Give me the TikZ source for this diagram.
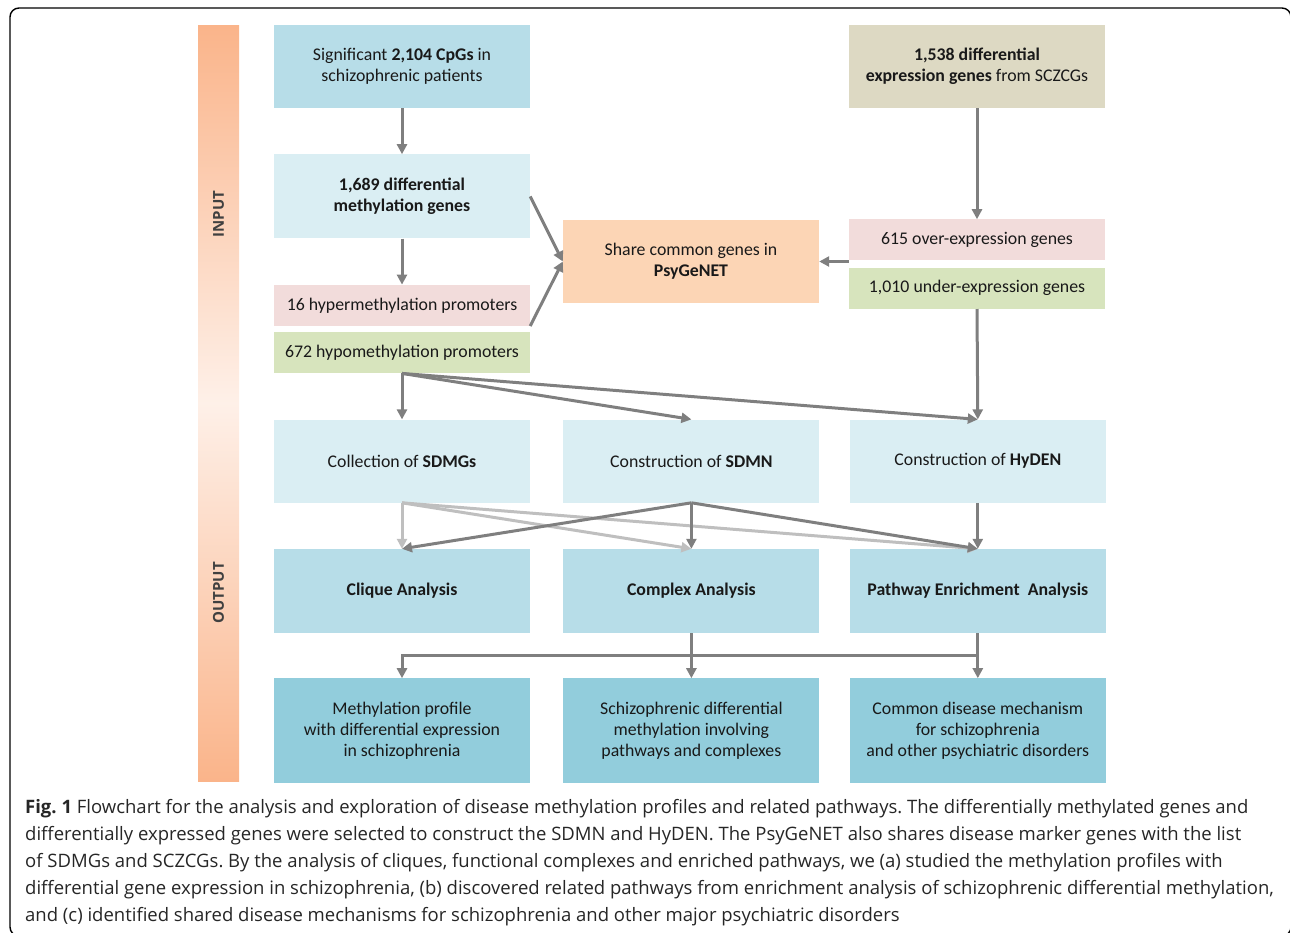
\documentclass[tikz,border=0pt]{standalone}
\usepackage{fontspec}
\setmainfont{Carlito}
\newfontfamily\capfont{Open Sans}
\usepackage{tikz}
\usepackage{xcolor}
\usetikzlibrary{arrows.meta, positioning}
\frenchspacing
\definecolor{aquadeep}{HTML}{B7DDE8}
\definecolor{aquapale}{HTML}{DAEEF3}
\definecolor{aquadark}{HTML}{92CDDC}
\definecolor{tanfill}{HTML}{DDD9C3}
\definecolor{peachfill}{HTML}{FCD5B5}
\definecolor{rosefill}{HTML}{F2DCDB}
\definecolor{olivefill}{HTML}{D7E4BD}
\definecolor{arrowgray}{HTML}{7F7F7F}
\definecolor{fadegray}{HTML}{BFBFBF}
\definecolor{barorange}{HTML}{FAB48A}
\definecolor{barlight}{HTML}{FEF0E8}
\tikzstyle{cell}      = [rectangle, minimum width=256pt, minimum height=83pt, inner sep=2pt,
                         text centered, align=center, text=black!90,
                         font=\fontsize{17.8}{21}\selectfont]
\tikzstyle{bluebox}   = [cell, fill=aquadeep]
\tikzstyle{palebox}   = [cell, fill=aquapale]
\tikzstyle{darkbox}   = [cell, fill=aquadark, minimum height=105pt]
\tikzstyle{tanbox}    = [cell, fill=tanfill]
\tikzstyle{peachbox}  = [cell, fill=peachfill]
\tikzstyle{rosebox}   = [cell, fill=rosefill, minimum height=41pt]
\tikzstyle{olivebox}  = [cell, fill=olivefill, minimum height=41pt]
\tikzstyle{sidelabel} = [rotate=90, text=black!75, font=\capfont\bfseries\fontsize{15}{17}\selectfont]
\tikzstyle{arrow}     = [-{Triangle[length=10pt, width=10pt]}, line width=3pt, draw=arrowgray]
\tikzstyle{fadearrow} = [arrow, draw=fadegray]

\begin{document}
\begin{tikzpicture}[x=1pt, y=-1pt, node distance=46pt]
  \useasboundingbox (0,0) rectangle (1290,932);
  \draw [line width=1.4pt, rounded corners=9pt] (10,8) rectangle (1291,936);
  \shade [top color=barorange, bottom color=barorange, middle color=barlight] (198,25) rectangle (239,781);
  \node (inlabel)  [sidelabel] at (218.5,214) {INPUT};
  \node (outlabel) [sidelabel] at (218.5,593) {OUTPUT};

  \node (cpgs)    [bluebox] at (402,66.5) {Significant \textbf{2,104 CpGs} in\\schizophrenic patients};
  \node (dmgs)    [palebox, minimum height=84pt, below=of cpgs] {\textbf{1,689 differential}\\\textbf{methylation genes}};
  \node (hyper)   [rosebox, below=of dmgs]     {16 hypermethylation promoters};
  \node (hypo)    [olivebox, below=6pt of hyper] {672 hypomethylation promoters};
  \node (degs)    [tanbox] at (977,66.5) {\textbf{1,538 differential}\\\textbf{expression genes} from SCZCGs};
  \node (over)    [rosebox, below=111pt of degs] {615 over-expression genes};
  \node (under)   [olivebox, below=7pt of over]  {1,010 under-expression genes};
  \node (share)   [peachbox] at (691,261.5) {Share common genes in\\\textbf{PsyGeNET}};

  \node (sdmgs)   [palebox, below=of hypo]      {Collection of \textbf{SDMGs}};
  \node (sdmn)    [palebox, right=33pt of sdmgs] {Construction of \textbf{SDMN}};
  \node (hyden)   [palebox, right=30pt of sdmn]  {Construction of \textbf{HyDEN}};
  \node (clique)  [bluebox, minimum height=84pt, below=of sdmgs] {\textbf{Clique Analysis}};
  \node (complex) [bluebox, minimum height=84pt, below=of sdmn]  {\textbf{Complex Analysis}};
  \node (pathway) [bluebox, minimum height=84pt, below=of hyden] {\textbf{Pathway Enrichment\ \ Analysis}};
  \node (profile)   [darkbox, below=45pt of clique]  {Methylation profile\\with differential expression\\in schizophrenia};
  \node (involve)   [darkbox, below=45pt of complex] {Schizophrenic differential\\methylation involving\\pathways and complexes};
  \node (mechanism) [darkbox, below=45pt of pathway] {Common disease mechanism\\for schizophrenia\\and other psychiatric disorders};

  \node (caption) [anchor=north west, align=left, inner sep=0pt, text=black!85,
                   font=\capfont\fontsize{18.5}{27}\selectfont] at (25,799)
    {\textbf{Fig. 1} Flowchart for the analysis and exploration of disease methylation profiles and related pathways. The differentially methylated genes and\\
     differentially expressed genes were selected to construct the SDMN and HyDEN. The PsyGeNET also shares disease marker genes with the list\\
     of SDMGs and SCZCGs. By the analysis of cliques, functional complexes and enriched pathways, we (a) studied the methylation profiles with\\
     differential gene expression in schizophrenia, (b) discovered related pathways from enrichment analysis of schizophrenic differential methylation,\\
     and (c) identified shared disease mechanisms for schizophrenia and other major psychiatric disorders};

  \draw [arrow] (cpgs)  -- (dmgs);
  \draw [arrow] (dmgs)  -- (hyper);
  \draw [arrow] (dmgs.east) -- (share.west);
  \draw [arrow] (hyper.south east) -- (share.west);
  \draw [arrow] (degs)  -- (over);
  \draw [arrow] (share.east -| over.west) -- (share.east);
  \draw [arrow] (under.south) -- (hyden.north);
  \draw [arrow] (hypo.south) -- (sdmgs.north);
  \draw [arrow] (hypo.south) -- (sdmn.north);
  \draw [arrow] (hypo.south) -- (hyden.north);

  \draw [fadearrow] (sdmgs.south) -- (clique.north);
  \draw [fadearrow] (sdmgs.south) -- (complex.north);
  \draw [fadearrow] (sdmgs.south) -- (pathway.north);
  \draw [arrow] (sdmn.south) -- (clique.north);
  \draw [arrow] (sdmn.south) -- (complex.north);
  \draw [arrow] (sdmn.south) -- (pathway.north);
  \draw [arrow] (hyden) -- (pathway);

  \path (complex.south) -- (involve.north) coordinate [midway] (split);
  \draw [arrow] (complex) -- (involve);
  \draw [arrow] (pathway) -- (mechanism);
  \draw [arrow] (pathway.south |- split) -| (profile.north);
\end{tikzpicture}
\end{document}
